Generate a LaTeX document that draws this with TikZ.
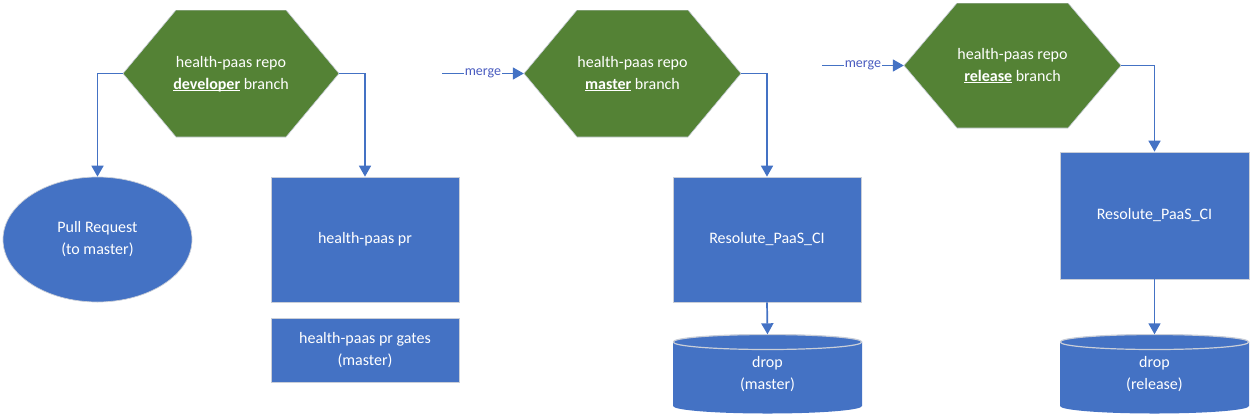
\documentclass[tikz,border=0pt]{standalone}
\usepackage{fontspec}
\setmainfont{Carlito}
\usetikzlibrary{arrows.meta,shapes.geometric}
\newcommand\ulbold[1]{\underline{\smash{\textbf{#1}}}}
\definecolor{hexgreen}{HTML}{548235}
\definecolor{boxblue}{HTML}{4472C4}
\definecolor{linkblue}{HTML}{4472C4}
\definecolor{mergeblue}{HTML}{4A5CC0}
\definecolor{rimgray}{HTML}{C9CED8}
\tikzset{
  txt/.style={text=white, font=\fontsize{16}{22}\selectfont, align=center, inner sep=0pt},
  hexnode/.style={txt, minimum width=#1, minimum height=127, rectangle,
    path picture={
      \fill[hexgreen, draw=rimgray, line width=0.6pt]
        (path picture bounding box.west)
        -- ([xshift=53]path picture bounding box.north west)
        -- ([xshift=-53]path picture bounding box.north east)
        -- (path picture bounding box.east)
        -- ([xshift=-53]path picture bounding box.south east)
        -- ([xshift=53]path picture bounding box.south west)
        -- cycle;}},
  boxnode/.style={txt, rectangle, fill=boxblue, draw=rimgray, line width=0.7pt},
  ovalnode/.style={txt, ellipse, fill=boxblue, draw=rimgray, line width=0.7pt, minimum width=189, minimum height=125},
  drumnode/.style={txt, rectangle, minimum width=189, minimum height=79,
    path picture={
      \fill[boxblue]
        ([yshift=-7.5pt]path picture bounding box.north west)
        arc[start angle=180, end angle=0, x radius=94.5pt, y radius=7.5pt]
        -- ([yshift=7.5pt]path picture bounding box.south east)
        arc[start angle=0, end angle=-180, x radius=94.5pt, y radius=7.5pt]
        -- cycle;
      \draw[rimgray, line width=1.2pt]
        ([yshift=-7.5pt]path picture bounding box.north west)
        arc[start angle=180, end angle=360, x radius=94.5pt, y radius=7.5pt];
      \draw[rimgray, line width=1.2pt]
        ([yshift=-7.5pt]path picture bounding box.north west)
        arc[start angle=180, end angle=0, x radius=94.5pt, y radius=7.5pt];}},
  arr/.style={draw=linkblue, line width=1.7pt, -{Triangle[length=11pt, width=12pt]}},
  mergelbl/.style={fill=white, text=mergeblue, font=\fontsize{14}{15}\selectfont, inner sep=0.5pt}
}
\begin{document}
\begin{tikzpicture}[x=1pt, y=-1pt]
\useasboundingbox (0,0) rectangle (1252,416);

% hexagons
\node[hexnode=216] (h1) at (231,73.5) {health-paas repo\\\ulbold{developer} branch};
\node[hexnode=217] (h2) at (632.5,73.5) {health-paas repo\\\ulbold{master} branch};
\node[hexnode=217, minimum height=125] (h3) at (1012.5,65.5) {health-paas repo\\\ulbold{release} branch};

% lower shapes
\node[ovalnode] (pr) at (97.5,239.5) {Pull Request\\(to master)};
\node[boxnode, minimum width=188, minimum height=125] (prb) at (365,239.5) {health-paas pr};
\node[boxnode, minimum width=188, minimum height=64] (gates) at (365,350) {health-paas pr gates\\(master)};
\node[boxnode, minimum width=188, minimum height=125] (ci1) at (767,239.5) {Resolute\_PaaS\_CI};
\node[drumnode] (d1) at (767.5,374) {drop\\(master)};
\node[boxnode, minimum width=189, minimum height=127] (ci2) at (1154.5,215.5) {Resolute\_PaaS\_CI};
\node[drumnode] (d2) at (1154.5,374) {drop\\(release)};

% merge sources
\coordinate (m2) at (442,73.5);
\coordinate (m3) at (822,65.5);

% connectors
\draw[arr] (h1.west) -| (pr.north);
\draw[arr] (h1.east) -| (prb.north);
\draw[arr] (h2.east) -| (ci1.north);
\draw[arr] (ci1.south) -- (d1.north);
\draw[arr] (h3.east) -| (ci2.north);
\draw[arr] (ci2.south) -- (d2.north);
\draw[arr] (m2) -- node[mergelbl] {merge} (h2.west);
\draw[arr] (m3) -- node[mergelbl] {merge} (h3.west);
\end{tikzpicture}
\end{document}
